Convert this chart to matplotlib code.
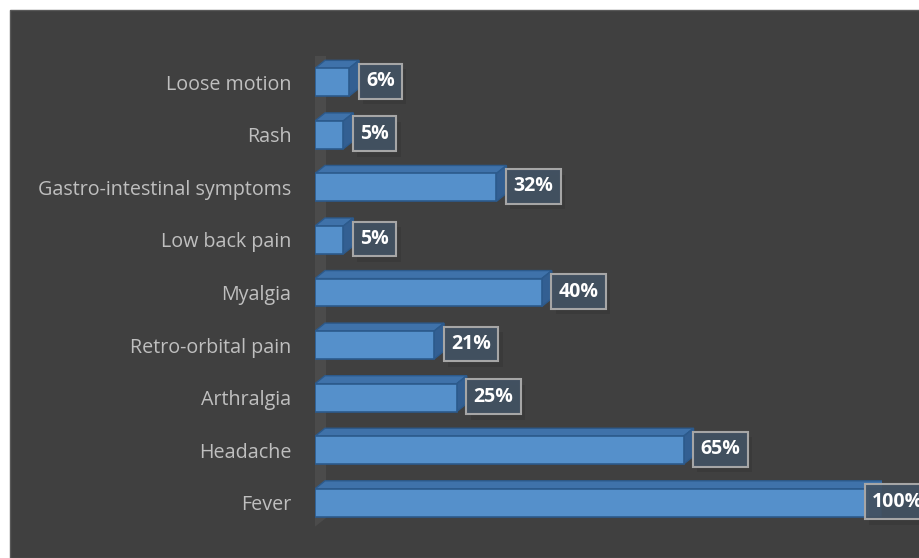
import matplotlib
matplotlib.use("Agg")
import matplotlib.pyplot as plt
import matplotlib.patheffects as pe
from matplotlib.patches import Rectangle, Polygon
from matplotlib.transforms import IdentityTransform

# symptoms, bottom to top as drawn
symptoms = ["Fever", "Headache", "Arthralgia", "Retro-orbital pain", "Myalgia",
            "Low back pain", "Gastro-intestinal symptoms", "Rash", "Loose motion"]
percent = [100, 65, 25, 21, 40, 5, 32, 5, 6]

W, H = 919, 558
fig = plt.figure(figsize=(W / 100, H / 100), dpi=100, facecolor="white")

# dark panel behind the chart
fig.patches.append(Rectangle((10 / W, 0), 1, (H - 10) / H, transform=fig.transFigure,
                             facecolor="#404040", edgecolor="#595959", lw=1, zorder=-1))

ax = fig.add_axes([315 / W, 29 / H, 567 / W, 473 / H])
ax.set_zorder(2)
ax.set_facecolor("none")
ax.set_xlim(0, 100)
ax.set_ylim(-0.5, len(symptoms) - 0.5)
for s in ax.spines.values():
    s.set_visible(False)
ax.set_xticks([])
ax.set_yticks(range(len(symptoms)))
ax.set_yticklabels(symptoms, color="#bfbfbf", fontsize=14.2, family="Open Sans")
ax.tick_params(axis="y", length=0, pad=17)

bar_h = 0.53
dx, dy = 10, 8  # 3d depth in pixels
front = "#5590cb"
top = "#3f72aa"
side = "#335f92"
edge = "#2c5a8c"

# back wall
x0, yb = ax.transData.transform((0, -0.5))
_, yt = ax.transData.transform((0, len(symptoms) - 0.5))
wall = Polygon([(x0 - 3, yb), (x0 + 11, yb + 11), (x0 + 11, yt + 9), (x0 - 3, yt - 2)],
               closed=True, transform=IdentityTransform(), facecolor="#4b4b4b",
               edgecolor="none", zorder=1)
ax.add_artist(wall)

ys = list(range(len(symptoms)))
ax.barh(ys, percent, height=bar_h, color=front, edgecolor=edge, lw=1.2, zorder=4)

for y, v in zip(ys, percent):
    (xa, ya) = ax.transData.transform((0, y + bar_h / 2))
    (xb, yb2) = ax.transData.transform((v, y - bar_h / 2))
    topface = Polygon([(xa, ya), (xb, ya), (xb + dx, ya + dy), (xa + dx, ya + dy)],
                      closed=True, transform=IdentityTransform(), facecolor=top,
                      edgecolor=edge, lw=1, zorder=3)
    sideface = Polygon([(xb, ya), (xb + dx, ya + dy), (xb + dx, yb2 + dy), (xb, yb2)],
                       closed=True, transform=IdentityTransform(), facecolor=side,
                       edgecolor=edge, lw=1, zorder=3)
    ax.add_artist(topface)
    ax.add_artist(sideface)

    # the longest bar gets its label pulled back over the bar end
    off = -10 if v == max(percent) else 17
    t = ax.annotate(f"{v}%", xy=(v, y), xytext=(off, 1), textcoords="offset pixels",
                    ha="left", va="center", color="white", fontsize=14,
                    fontweight="bold", family="Open Sans", zorder=6, annotation_clip=False,
                    bbox=dict(boxstyle="square,pad=0.38", facecolor=(0.26, 0.32, 0.39, 0.92),
                              edgecolor="#a6a6a6", lw=1.5))
    t.get_bbox_patch().set_path_effects([
        pe.SimplePatchShadow(offset=(3, -4), shadow_rgbFace="#2e2e2e", alpha=0.3),
        pe.Normal()])

fig.savefig("out.png", dpi=100)
